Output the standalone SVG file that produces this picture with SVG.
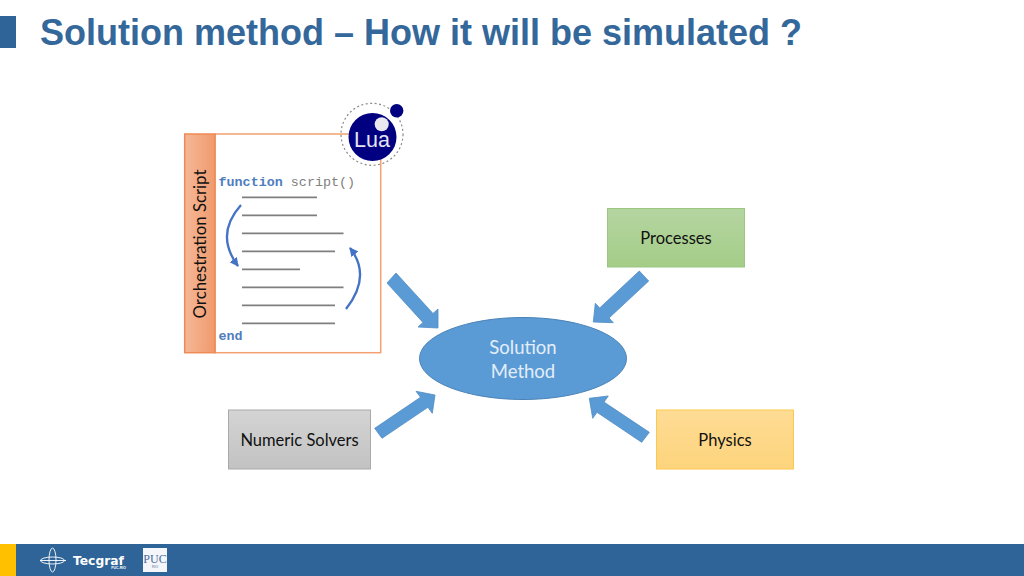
<svg xmlns="http://www.w3.org/2000/svg" width="1024" height="576" viewBox="0 0 1024 576">
<defs>
<linearGradient id="gOrange" x1="0" y1="0" x2="1" y2="0"><stop offset="0" stop-color="#f6b897"/><stop offset="1" stop-color="#f09a6c"/></linearGradient>
<linearGradient id="gGreen" x1="0" y1="0" x2="0" y2="1"><stop offset="0" stop-color="#b5d5a1"/><stop offset="1" stop-color="#a4cd88"/></linearGradient>
<linearGradient id="gYellow" x1="0" y1="0" x2="0" y2="1"><stop offset="0" stop-color="#fedc95"/><stop offset="1" stop-color="#fdd47c"/></linearGradient>
<linearGradient id="gGrey" x1="0" y1="0" x2="0" y2="1"><stop offset="0" stop-color="#d4d4d4"/><stop offset="1" stop-color="#c2c2c2"/></linearGradient>
<marker id="curveHead" markerUnits="userSpaceOnUse" markerWidth="12" markerHeight="12" refX="8" refY="4.500" orient="auto"><path d="M0,0 L9,4.500 L0,9 Z" fill="#4472c4"/></marker>
</defs>
<style>
.label{font-family:"Lato","Open Sans",sans-serif;font-size:16.500px;fill:#111;text-anchor:middle}
.code{font-family:"Liberation Mono",monospace;font-size:13.400px}
.kw{font-weight:bold;fill:#4f7dc0}
.rule{stroke:#7f7f7f;stroke-width:1.700;fill:none}
.flow{fill:#5b9bd5;stroke:#4f8cc4;stroke-width:.8}
.curve{fill:none;stroke:#4472c4;stroke-width:2.300;marker-end:url(#curveHead)}
</style>
<rect width="1024" height="576" fill="#fff"/>
<g id="header">
<rect x="0" y="16" width="16" height="32" fill="#2e6497"/>
<text x="40" y="45" font-family="Liberation Sans, Arial, sans-serif" font-size="36" font-weight="bold" fill="#34689a">Solution method – How it will be simulated ?</text>
</g>
<g id="footer">
<rect x="0" y="544" width="1024" height="32" fill="#2e6497"/>
<rect x="0" y="544" width="16" height="32" fill="#ffc000"/>
<g fill="none" stroke="#fff" stroke-width=".9">
<path d="M40,560.500 H66"/><ellipse cx="52.500" cy="560.500" rx="12" ry="3.500"/><ellipse cx="52.500" cy="560" rx="3.500" ry="12"/>
</g>
<text x="73" y="565" font-family="DejaVu Sans, sans-serif" font-size="12.300" font-weight="bold" fill="#fff">Tecgraf</text>
<text x="126" y="569" font-family="Liberation Sans, sans-serif" font-size="3.500" font-weight="bold" fill="#fff" text-anchor="end">PUC-RIO</text>
<rect x="143" y="548" width="24" height="24" fill="#f4f6fa"/>
<text x="155" y="563" font-family="Liberation Serif, serif" font-size="12" fill="#4a6a9c" text-anchor="middle">PUC</text>
<text x="155" y="568" font-family="Liberation Sans, sans-serif" font-size="3.500" fill="#4a6a9c" text-anchor="middle">RIO</text>
</g>
<g id="connectors">
<polygon class="flow" points="387,283 396,273 433,313.500 438,309 438,328 418,327 423,322.500"/>
<polygon class="flow" points="639.300,271 648.700,281 609,318 613.300,322.700 593.300,322 595.300,303.300 599.700,308"/>
<polygon class="flow" points="374.700,428.300 382,438.300 427.900,407.300 432.300,413.300 435,395 416,391.300 420.500,397.300"/>
<polygon class="flow" points="649.300,432.300 641.700,442.300 597,412.300 592.700,418.300 589.300,398.300 608.300,396 604,402.100"/>
</g>
<g id="orchestration-script">
<rect x="215" y="134" width="165.700" height="218.700" fill="#fff" stroke="#f4a070" stroke-width="1.500"/>
<rect x="184.700" y="134" width="30.300" height="218.700" fill="url(#gOrange)" stroke="#ee8a55" stroke-width="1.500"/>
<text transform="translate(206 244) rotate(-90)" class="label" style="font-size:16.800px">Orchestration Script</text>
<text x="218.500" y="186" class="code"><tspan class="kw">function</tspan><tspan fill="#808080"> script()</tspan></text>
<path class="rule" d="M242,197.300H317M242,215.300H317M242,233.300H343.500M242,251.300H335M242,269.300H300M242,287.300H343.500M242,305.300H335M242,323.300H335"/>
<text x="218.500" y="340" class="code kw">end</text>
<path class="curve" d="M241,205 Q214.500,234.500 238,266"/>
<path class="curve" d="M346,309 Q372,276 350,248"/>
</g>
<g id="lua-logo">
<circle cx="372" cy="134.300" r="31" fill="none" stroke="#8a8a8a" stroke-width="1.200" stroke-dasharray="2 2.500"/>
<circle cx="372.500" cy="137" r="24" fill="#000080"/>
<circle cx="396.700" cy="110.700" r="6.700" fill="#000080"/>
<circle cx="381.700" cy="124.300" r="7" fill="#e8e8ee"/>
<text x="372" y="146.700" font-family="Liberation Sans, sans-serif" font-size="21.500" fill="#e4e6f4" text-anchor="middle">Lua</text>
</g>
<g id="solution-method">
<ellipse cx="523" cy="358.500" rx="103.500" ry="41" fill="#5b9bd5" stroke="#4a82b6" stroke-width="1"/>
<text x="523" y="353.500" class="label" style="font-size:18.500px;fill:#e3eefa">Solution</text>
<text x="523" y="377.500" class="label" style="font-size:18.500px;fill:#e3eefa">Method</text>
</g>
<g id="processes">
<rect x="607.500" y="208.500" width="137" height="58.500" fill="url(#gGreen)" stroke="#9cc681"/>
<text x="676" y="244" class="label">Processes</text>
</g>
<g id="physics">
<rect x="656.500" y="410" width="137" height="59" fill="url(#gYellow)" stroke="#fcc94f"/>
<text x="725" y="446" class="label">Physics</text>
</g>
<g id="numeric-solvers">
<rect x="228.500" y="410" width="142" height="59" fill="url(#gGrey)" stroke="#a9a9a9"/>
<text x="299.500" y="446" class="label">Numeric Solvers</text>
</g>
</svg>
